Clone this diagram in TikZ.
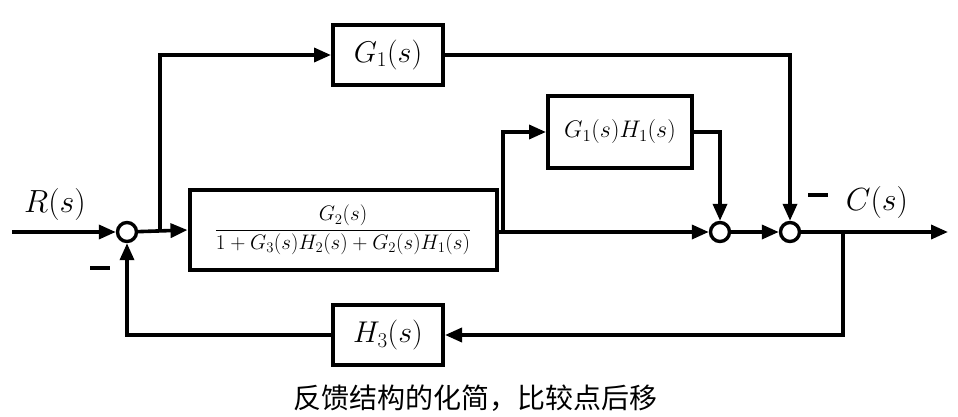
\RequirePackage{fix-cm}
\documentclass[tikz,border=0pt]{standalone}
\usepackage{fontspec}
\newfontfamily\cjk{Noto Sans CJK SC}
\usetikzlibrary{arrows.meta}
\begin{document}
\begin{tikzpicture}[x=1pt,y=-1pt,
  line width=3.6pt,
  blk/.style={draw,line width=4pt,minimum width=110pt,minimum height=60pt,inner sep=0pt,font=\fontsize{30}{32}\selectfont},
  sum/.style={draw,circle,line width=3.4pt,minimum size=19pt,inner sep=0pt},
  arr/.style={-{Triangle[length=17pt,width=14pt]}},
  lbl/.style={font=\fontsize{32}{34}\selectfont}]
\clip (0,0) rectangle (958,417);
\fill[white] (0,0) rectangle (958,417);
\node[sum] (s1) at (127,232) {};
\node[sum] (s2) at (720,232) {};
\node[sum] (s3) at (790,232) {};
\node[blk] (g1) at (388,55) {$G_1(s)$};
\node[blk,minimum width=144pt,minimum height=72pt,font=\fontsize{24}{26}\selectfont] (gh) at (620,132) {$G_1(s)H_1(s)$};
\node[blk,minimum width=307pt,minimum height=80pt,font=\fontsize{21}{23}\selectfont] (b2) at (343,230) {$\displaystyle\frac{G_2(s)}{1+G_3(s)H_2(s)+G_2(s)H_1(s)}$};
\node[blk] (h3) at (388,335) {$H_3(s)$};
\coordinate (in) at (12,232);
\coordinate (out) at (948,232);
\coordinate (p1) at (160,232);
\coordinate (p2) at (503,232);
\coordinate (p3) at (843,232);
\node[lbl] (R) at (55,205) {$R(s)$};
\node[lbl] (C) at (877,203) {$C(s)$};
\node (m1) at (100,268) {\rule{20pt}{3.5pt}};
\node (m2) at (818,195) {\rule{20pt}{3.5pt}};
\draw[arr] (in) -- (s1);
\draw[arr] (s1) -- (b2.west);
\draw[arr] (p1) |- (g1.west);
\draw[arr] (g1.east) -| (s3.north);
\draw[arr] (b2.east |- s2) -- (s2);
\draw[arr] (p2) |- (gh.west);
\draw[arr] (gh.east) -| (s2.north);
\draw[arr] (s2) -- (s3);
\draw[arr] (s3) -- (out);
\draw[arr] (p3) |- (h3.east);
\draw[arr] (h3.west) -| (s1.south);
\node[font=\cjk\fontsize{28}{30}\selectfont] (cap) at (475,398) {反馈结构的化简，比较点后移};
\end{tikzpicture}
\end{document}
